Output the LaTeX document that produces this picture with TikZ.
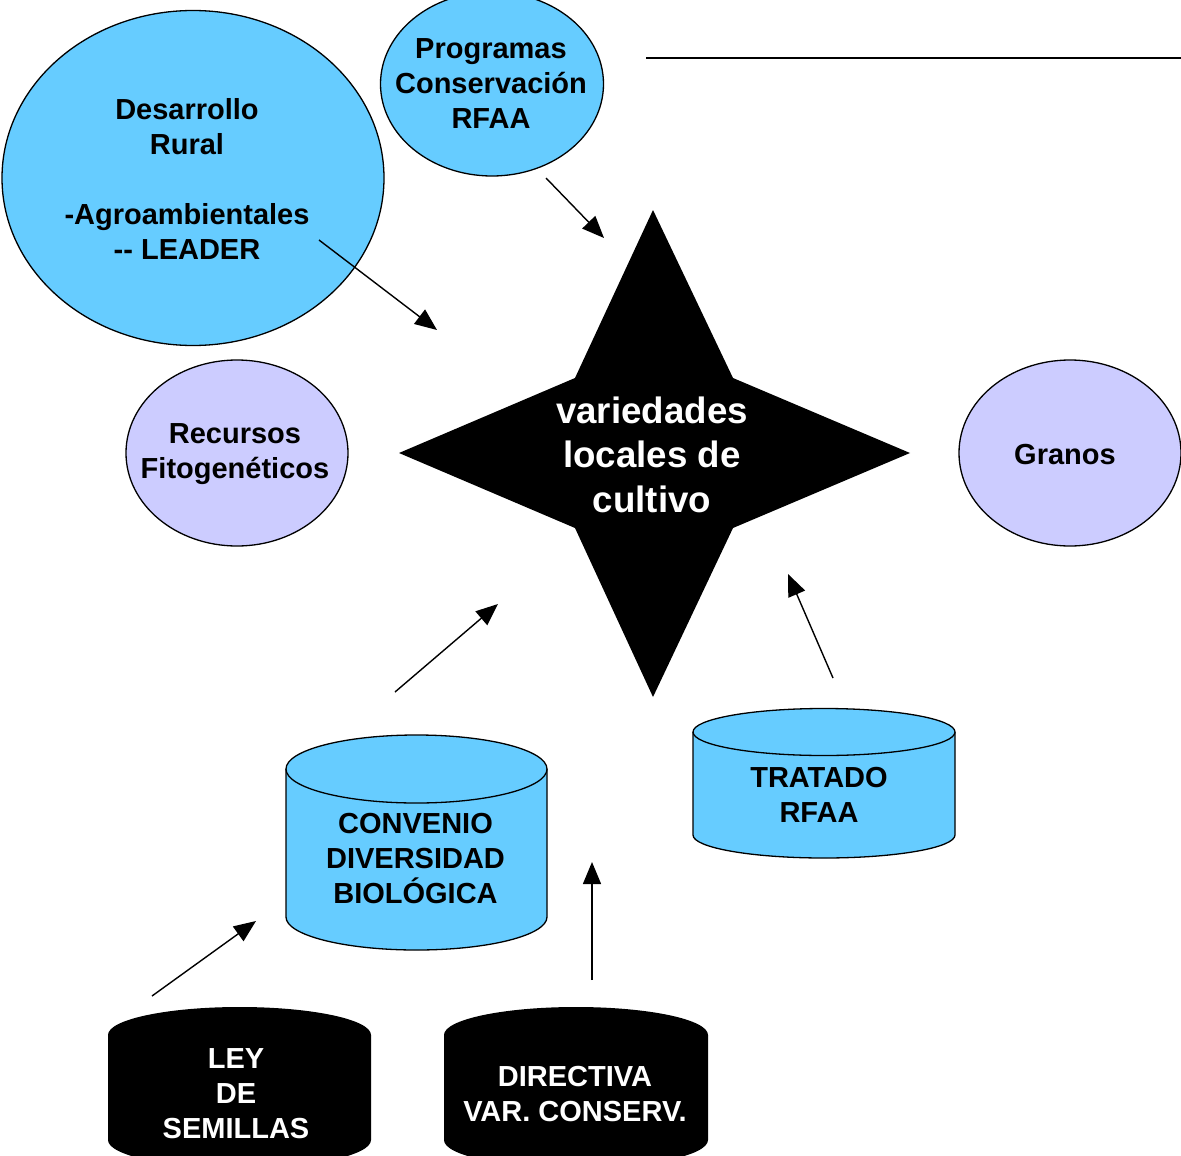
\documentclass[tikz,border=0pt]{standalone}
\usepackage{fontspec}
\setmainfont{Liberation Sans}
\usetikzlibrary{shapes.geometric,arrows.meta}
\definecolor{skyb}{HTML}{66CCFF}
\definecolor{lav}{HTML}{CCCCFF}
\begin{document}
\begin{tikzpicture}[x=1pt,y=-1pt,
  lbl/.style={font=\bfseries\fontsize{29}{35}\selectfont, align=center, inner sep=0pt},
  bigl/.style={font=\bfseries\fontsize{36.7}{44.5}\selectfont, align=center, inner sep=0pt, text=white},
  ell/.style={ellipse, draw=black, line width=1.3pt, inner sep=0pt},
  blueell/.style={ell, fill=skyb},
  lavell/.style={ell, fill=lav},
  conn/.style={line width=1.4pt, -{Triangle[length=22pt,width=18pt]}},
  cylbody/.style={line width=1.3pt}
]
\useasboundingbox (0,0) rectangle (1181,1156);

% ellipses
\node[blueell, minimum width=382pt, minimum height=335pt] (dr) at (193,178) {};
\node[lbl] (drt) at (187,178.5) {Desarrollo\\Rural\\[35pt]-Agroambientales\\-{}- LEADER};
\node[blueell, minimum width=223pt, minimum height=184pt] (pc) at (492,84) {};
\node[lbl] (pct) at (491,83.5) {Programas\\Conservación\\RFAA};
\node[lavell, minimum width=222pt, minimum height=186pt] (rf) at (237,453) {};
\node[lbl] (rft) at (235,454) {Recursos\\Fitogenéticos};
\node[lavell, minimum width=222pt, minimum height=186pt] (gr) at (1070,453) {};
\node[lbl] (grt) at (1065,455) {Granos};

% top line
\coordinate (hl1) at (646,58);
\coordinate (hl2) at (1181,58);
\draw[line width=1.6pt] (hl1) -- (hl2);

% star
\fill[black] (653,210) -- (733,378) -- (910,453) -- (733,528) -- (653,697)
  -- (575,528) -- (399,453) -- (575,378) -- cycle;
\node[bigl] (star) at (652,454.5) {variedades\\locales de\\cultivo};

% cylinder CONVENIO
\fill[skyb] (286,769) -- (286,917) arc[start angle=180,end angle=360,x radius=130.5pt,y radius=33pt] -- (547,769) -- cycle;
\draw[cylbody] (286,769) -- (286,917) arc[start angle=180,end angle=360,x radius=130.5pt,y radius=33pt] -- (547,769);
\draw[cylbody, fill=skyb] (416.5,769) ellipse[x radius=130.5pt, y radius=34pt];
\node[lbl] (cdb) at (415.5,859) {CONVENIO\\DIVERSIDAD\\BIOLÓGICA};

% cylinder TRATADO
\fill[skyb] (693,732) -- (693,835) arc[start angle=180,end angle=360,x radius=131pt,y radius=23pt] -- (955,732) -- cycle;
\draw[cylbody] (693,732) -- (693,835) arc[start angle=180,end angle=360,x radius=131pt,y radius=23pt] -- (955,732);
\draw[cylbody, fill=skyb] (824,732) ellipse[x radius=131pt, y radius=23.5pt];
\node[lbl] (tr) at (819,794.5) {TRATADO\\RFAA};

% cylinder LEY
\fill[black] (108,1035) -- (108,1140) arc[start angle=180,end angle=360,x radius=131.5pt,y radius=28pt] -- (371,1035) -- cycle;
\fill[black] (239.5,1035) ellipse[x radius=131.5pt, y radius=28pt];
\node[lbl, text=white] (ley) at (236,1093.5) {LEY\\DE\\SEMILLAS};

% cylinder DIRECTIVA
\fill[black] (444,1035) -- (444,1140) arc[start angle=180,end angle=360,x radius=132pt,y radius=28pt] -- (708,1035) -- cycle;
\fill[black] (576,1035) ellipse[x radius=132pt, y radius=28pt];
\node[lbl, text=white] (dir) at (575,1094) {DIRECTIVA\\VAR. CONSERV.};

% arrows
\coordinate (a1s) at (546,178); \coordinate (a1e) at (604,238);
\coordinate (a2s) at (319,240); \coordinate (a2e) at (437,330);
\coordinate (a3s) at (395,692); \coordinate (a3e) at (498,604);
\coordinate (a4s) at (833,678); \coordinate (a4e) at (788,574);
\coordinate (a5s) at (152,996); \coordinate (a5e) at (256,921);
\coordinate (a6s) at (592,980); \coordinate (a6e) at (592,862);
\draw[conn] (a1s) -- (a1e);
\draw[conn] (a2s) -- (a2e);
\draw[conn] (a3s) -- (a3e);
\draw[conn] (a4s) -- (a4e);
\draw[conn] (a5s) -- (a5e);
\draw[conn] (a6s) -- (a6e);
\end{tikzpicture}
\end{document}
